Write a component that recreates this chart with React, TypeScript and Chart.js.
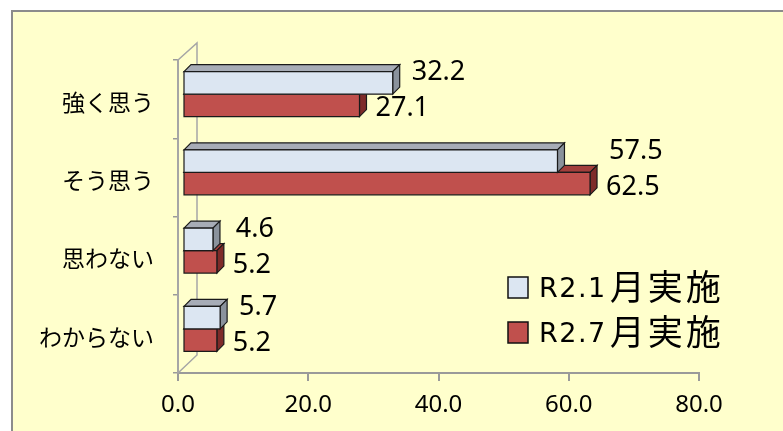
import React, { useEffect, useRef } from 'react';
import { Chart, registerables } from 'chart.js';

Chart.register(...registerables);

const categories = ['強く思う', 'そう思う', '思わない', 'わからない'];
const seriesJan = [32.2, 57.5, 4.6, 5.7];
const seriesJul = [27.1, 62.5, 5.2, 5.2];
const seriesLabels = ['R2.1月実施', 'R2.7月実施'];
const xTicks = [0, 20, 40, 60, 80];

const FRONT = ['#DCE6F2', '#C0504D'];
const TOP = ['#A7ACB6', '#A23F3C'];
const SIDE = ['#8A929C', '#7E2B29'];

const DEPTH = 7;
const OX = 5;
const OY = -5;

function poly(ctx: CanvasRenderingContext2D, pts: number[][], fill: string) {
  ctx.beginPath();
  ctx.moveTo(pts[0][0], pts[0][1]);
  for (let i = 1; i < pts.length; i++) ctx.lineTo(pts[i][0], pts[i][1]);
  ctx.closePath();
  ctx.fillStyle = fill;
  ctx.fill();
  ctx.stroke();
}

const wallPlugin = {
  id: 'wall3d',
  beforeDatasetsDraw(chart: any) {
    const { ctx } = chart;
    const { left, top, bottom } = chart.chartArea;
    ctx.save();
    ctx.strokeStyle = '#A6A6A6';
    ctx.lineWidth = 1.5;
    ctx.beginPath();
    ctx.moveTo(left, top);
    ctx.lineTo(left + 19, top - 17);
    ctx.lineTo(left + 19, bottom - 18);
    ctx.lineTo(left, bottom);
    ctx.stroke();
    ctx.restore();
  },
};

const bar3dPlugin = {
  id: 'bar3d',
  beforeDatasetDraw(chart: any, args: any) {
    const ctx = chart.ctx;
    const i = args.index;
    ctx.save();
    ctx.lineWidth = 1.2;
    ctx.strokeStyle = '#1a1a1a';
    ctx.lineJoin = 'miter';
    args.meta.data.forEach((el: any) => {
      const { x, y, base, height } = el.getProps(['x', 'y', 'base', 'height'], true);
      const l = Math.min(x, base) + OX;
      const r = Math.max(x, base) + OX;
      const t = y - height / 2 + OY;
      const b = y + height / 2 + OY;
      const D = DEPTH;
      poly(ctx, [[l, t], [l + D, t - D], [r + D, t - D], [r, t]], TOP[i]);
      poly(ctx, [[r, t], [r + D, t - D], [r + D, b - D], [r, b]], SIDE[i]);
      poly(ctx, [[l, t], [r, t], [r, b], [l, b]], FRONT[i]);
    });
    ctx.restore();
    return false;
  },
};

const labelPlugin = {
  id: 'valueLabels',
  afterDatasetsDraw(chart: any) {
    const ctx = chart.ctx;
    const mA = chart.getDatasetMeta(0);
    const mB = chart.getDatasetMeta(1);
    const dA = chart.data.datasets[0].data as number[];
    const dB = chart.data.datasets[1].data as number[];
    ctx.save();
    ctx.font = '27px "Noto Sans"';
    ctx.fillStyle = '#000';
    ctx.textAlign = 'left';
    ctx.textBaseline = 'alphabetic';
    for (let k = 0; k < dA.length; k++) {
      const a = mA.data[k];
      const b = mB.data[k];
      const endMax = Math.max(a.x, b.x) + OX + DEPTH;
      ctx.fillText(dA[k].toFixed(1), endMax + 12, a.y + OY - 12 + 9.6);
      ctx.fillText(dB[k].toFixed(1), b.x + OX + DEPTH + 9, b.y + OY + 1.5 + 9.6);
    }
    ctx.restore();
  },
};

const legendPlugin = {
  id: 'customLegend',
  afterDraw(chart: any) {
    const ctx = chart.ctx;
    const { left, top } = chart.chartArea;
    const bx = left + 330;
    ctx.save();
    chart.data.datasets.forEach((ds: any, j: number) => {
      const cy = top + 228 + j * 45;
      ctx.fillStyle = FRONT[j];
      ctx.fillRect(bx, cy - 11, 20, 21);
      ctx.lineWidth = 1.5;
      ctx.strokeStyle = '#111';
      ctx.strokeRect(bx, cy - 11, 20, 21);
      const label: string = ds.label;
      const m = label.match(/^[\x00-\x7F]+/);
      const latin = m ? m[0] : '';
      const rest = label.slice(latin.length);
      ctx.fillStyle = '#000';
      ctx.textAlign = 'left';
      ctx.font = '27px "DejaVu Sans"';
      (ctx as any).letterSpacing = '1.5px';
      ctx.textBaseline = 'alphabetic';
      ctx.fillText(latin, bx + 31, cy + 9);
      const w = ctx.measureText(latin).width;
      ctx.font = '35px "Noto Sans CJK JP"';
      (ctx as any).letterSpacing = '3px';
      ctx.textBaseline = 'middle';
      ctx.fillText(rest, bx + 31 + w + 3, cy - 1);
      (ctx as any).letterSpacing = '0px';
    });
    ctx.restore();
  },
};

export default function App() {
  const ref = useRef<HTMLCanvasElement>(null);

  useEffect(() => {
    if (!ref.current) return;
    const chart = new Chart(ref.current, {
      type: 'bar',
      data: {
        labels: categories,
        datasets: [
          { label: seriesLabels[0], data: seriesJan, backgroundColor: FRONT[0] },
          { label: seriesLabels[1], data: seriesJul, backgroundColor: FRONT[1] },
        ],
      },
      options: {
        indexAxis: 'y',
        responsive: false,
        maintainAspectRatio: false,
        animation: false,
        events: [],
        datasets: { bar: { categoryPercentage: 0.575, barPercentage: 1 } },
        layout: { padding: { top: 60, right: 84, bottom: 0, left: 0 } },
        plugins: {
          legend: { display: false },
          tooltip: { enabled: false },
          title: { display: false },
        },
        scales: {
          x: {
            type: 'linear',
            min: 0,
            max: 80,
            afterBuildTicks: (scale: any) => {
              scale.ticks = xTicks.map((v) => ({ value: v }));
            },
            afterFit: (scale: any) => {
              scale.height = 58;
            },
            ticks: {
              callback: (v: any) => Number(v).toFixed(1),
              font: { family: '"Noto Sans"', size: 24 },
              color: '#000',
              padding: 10,
              maxRotation: 0,
            },
            grid: { drawOnChartArea: false, drawTicks: true, tickLength: 8, color: '#9A9A9A', lineWidth: 2 },
            border: { display: true, color: '#9A9A9A', width: 2 },
          },
          y: {
            type: 'category',
            offset: true,
            afterFit: (scale: any) => {
              scale.width = 178;
            },
            ticks: {
              font: { family: '"Noto Sans CJK JP"', size: 23 },
              color: '#000',
              padding: 19,
              labelOffset: 3,
            },
            grid: { offset: true, drawOnChartArea: false, drawTicks: true, tickLength: 5, color: '#9A9A9A', lineWidth: 1.5 },
            border: { display: true, color: '#A6A6A6', width: 2 },
          },
        },
      },
      plugins: [wallPlugin, bar3dPlugin, labelPlugin, legendPlugin],
    } as any);
    return () => chart.destroy();
  }, []);

  return (
    <div style={{ position: 'fixed', left: 0, top: 0, width: 783, height: 431, background: '#fff', overflow: 'hidden' }}>
      <div
        style={{
          position: 'absolute',
          left: 11,
          top: 10,
          width: 800,
          height: 450,
          background: '#FFFFCC',
          borderLeft: '2px solid #8C8C8C',
          borderTop: '2px solid #8C8C8C',
        }}
      />
      <canvas ref={ref} width={783} height={431} style={{ position: 'absolute', left: 0, top: 0 }} />
    </div>
  );
}
